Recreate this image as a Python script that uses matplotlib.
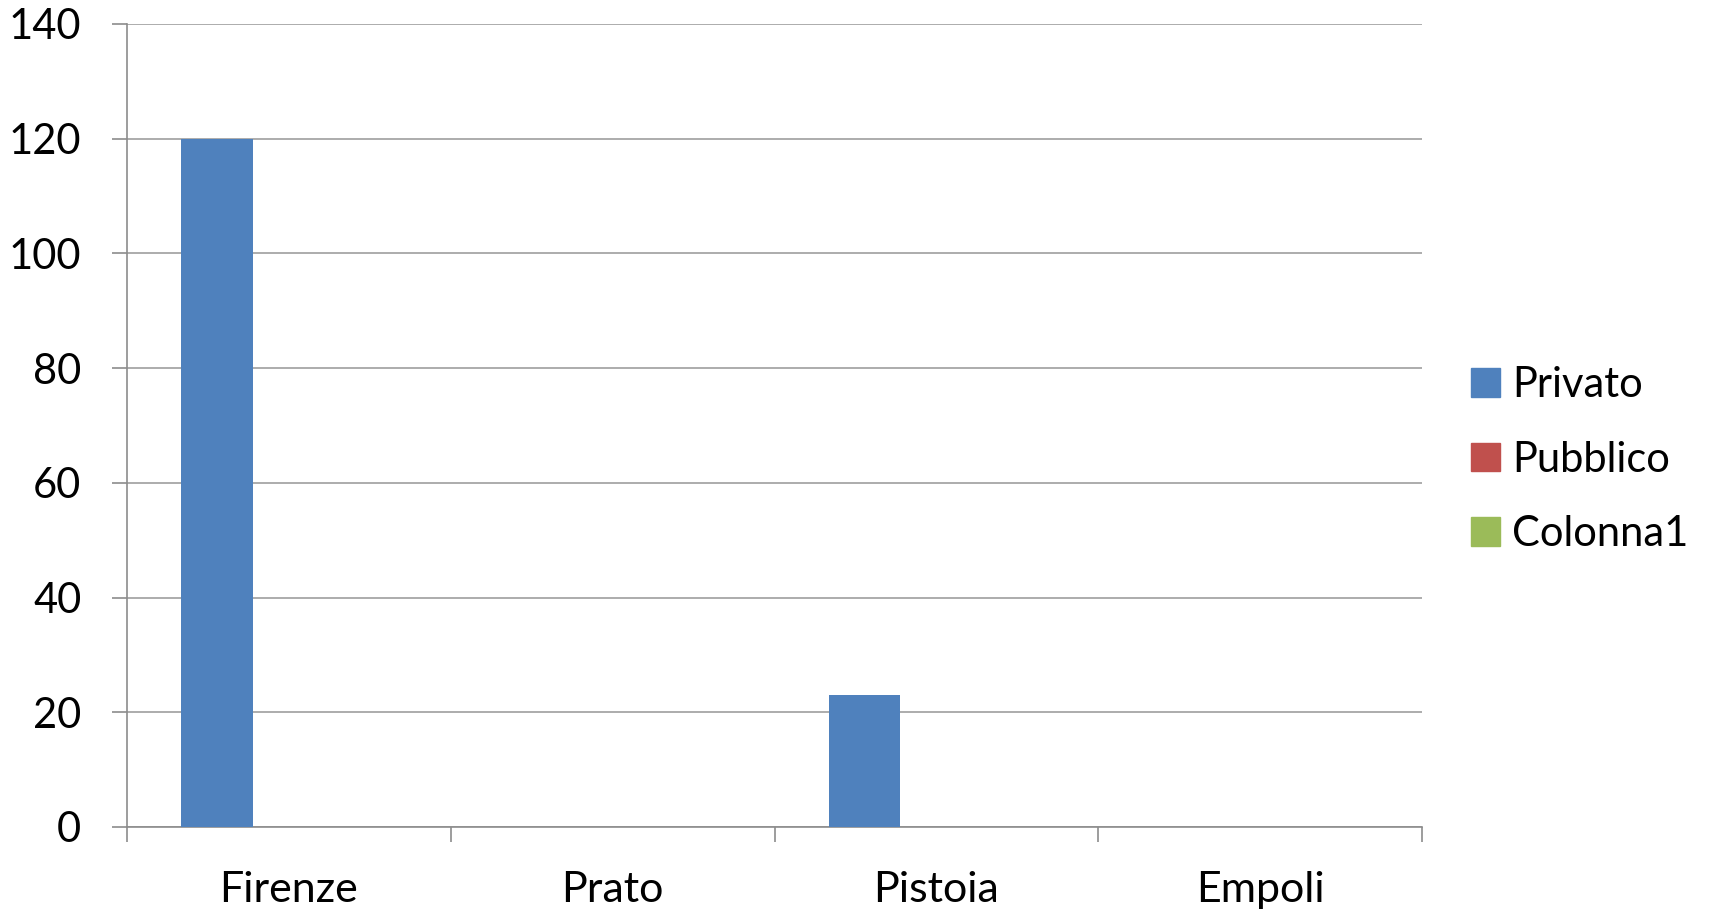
import matplotlib.pyplot as plt
import matplotlib.patches as mpatches
import numpy as np

plt.rcParams['font.family'] = ['Lato', 'DejaVu Sans']

# data
citta = ['Firenze', 'Prato', 'Pistoia', 'Empoli']
privato = [120, 0, 23, 0]
pubblico = [0, 0, 0, 0]
colonna1 = [0, 0, 0, 0]
y_ticks = [0, 20, 40, 60, 80, 100, 120, 140]

serie = {'Privato': privato, 'Pubblico': pubblico, 'Colonna1': colonna1}
colori = {'Privato': '#4F81BD', 'Pubblico': '#C0504D', 'Colonna1': '#9BBB59'}

fig = plt.figure(figsize=(17.15, 9.14), dpi=100)
ax = fig.add_axes([0.0741, 0.0952, 0.7551, 0.8786])

x = np.arange(len(citta))
w = 1 / 4.5  # gap width 150%
for i, nome in enumerate(serie):
    ax.bar(x + (i - 1) * w, serie[nome], width=w, color=colori[nome], zorder=3)

ax.set_xlim(-0.5, len(citta) - 0.5)
ax.set_ylim(0, 140)
ax.set_yticks(y_ticks)
ax.yaxis.grid(True, color='#a6a6a6', linewidth=1.3, zorder=0)

# category boundaries as major ticks, names as minor ticks
ax.set_xticks(np.arange(len(citta) + 1) - 0.5)
ax.set_xticklabels([])
ax.set_xticks(x, minor=True)
ax.set_xticklabels(citta, minor=True)
ax.tick_params(axis='x', which='major', length=11, width=1.2, color='#8c8c8c')
ax.tick_params(axis='x', which='minor', length=0, pad=32, labelsize=31)
ax.tick_params(axis='y', length=11, width=1.2, color='#8c8c8c', pad=22, labelsize=30)

for s in ['top', 'right']:
    ax.spines[s].set_visible(False)
for s in ['left', 'bottom']:
    ax.spines[s].set_color('#8c8c8c')
    ax.spines[s].set_linewidth(1.2)

handles = [mpatches.Patch(color=colori[n], label=n) for n in serie]
fig.legend(handles=handles, loc='center left', bbox_to_anchor=(0.858, 0.497),
           frameon=False, fontsize=30, handlelength=0.68, handleheight=0.68,
           handletextpad=0.3, labelspacing=0.88, borderpad=0, borderaxespad=0)

fig.savefig('out.png', dpi=100)
